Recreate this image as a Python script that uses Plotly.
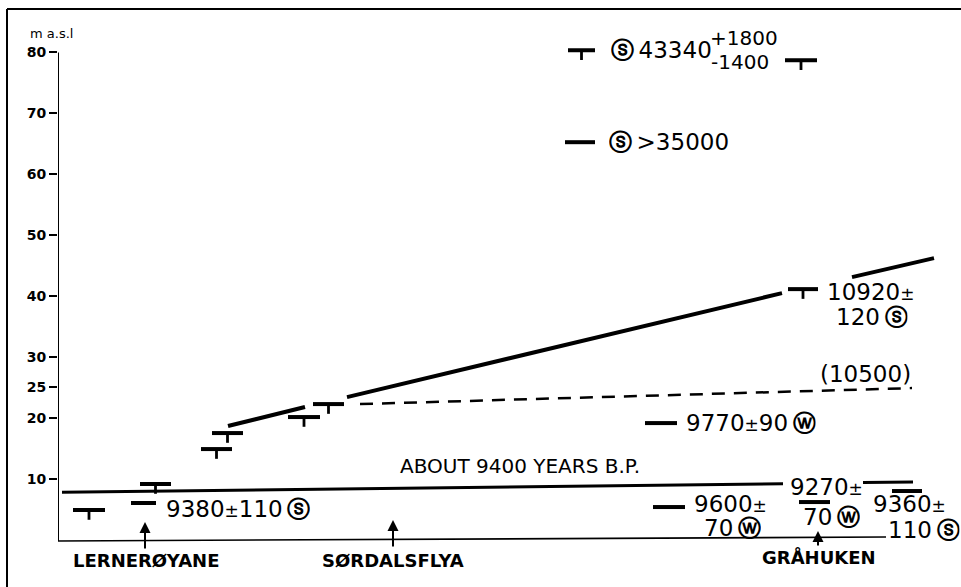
import plotly.graph_objects as go

# ---------------- data ----------------
# dated samples: horizontal bar from x0 to x1 (distance, arbitrary km) at elevation (m a.s.l.)
sample_x0 = [1.5, 8.2, 7.3, 14.3, 15.4, 23.0, 25.5, 73.0, 58.7, 59.5, 74.1, 83.4, 51.0, 72.7, 50.7]
sample_x1 = [4.7, 11.3, 9.8, 17.4, 18.5, 26.2, 28.6, 76.0, 61.9, 62.7, 77.2, 86.4, 53.7, 75.9, 53.7]
sample_elev = [4.85, 9.12, 6.0, 14.86, 17.49, 20.12, 22.25, 41.13, 19.13, 5.34, 6.16, 7.97, 80.36, 78.72, 65.26]
sample_stem = [1, 1, 0, 1, 1, 1, 1, 1, 0, 0, 0, 0, 1, 1, 0]
stem_len = 1.6

# shorelines
upper_x = [[17.0, 24.7], [28.9, 72.4], [79.4, 87.6]]
upper_y = [[18.64, 21.76], [23.4, 40.47], [43.1, 46.22]]
dashed_x = [30.2, 85.4]
dashed_y = [22.25, 24.88]
main_x = [[0.4, 72.5], [80.5, 85.5]]
main_y = [[7.75, 9.17], [9.36, 9.44]]
base_x = [0.0, 82.8]
base_y = [-0.24, 0.42]
axis_top = 80

# y ticks
y_ticks = [10, 20, 25, 30, 40, 50, 60, 70, 80]

# locality arrows
loc_names = ["LERNERØYANE", "SØRDALSFLYA", "GRÅHUKEN"]
loc_x = [8.7, 33.5, 76.0]
loc_tip = [2.88, 3.21, 1.40]
loc_tail = [-1.72, -1.39, -1.22]
loc_label_x = [8.8, 33.5, 76.1]
loc_label_y = [-3.52, -3.52, -2.87]

PM = "<span style='font-size:17px'>±</span>"
S = "\u2009<b>ⓢ</b>"
W = "\u2009<b>ⓦ</b>"
# date labels (left anchored)
date_text = [
    "9380" + PM + "110" + S,
    "<b>ⓢ</b>\u200943340",
    "<b>ⓢ</b>\u2009>35000",
    "10920" + PM,
    "120" + S,
    "(10500)",
    "9770" + PM + "90" + W,
    "9600" + PM,
    "70" + W,
    "9270" + PM,
    "70" + W,
    "9360" + PM,
    "110" + S,
]
date_x = [10.7, 55.2, 55.0, 76.8, 77.7, 76.1, 62.7, 63.5, 64.5, 73.1, 74.4, 81.4, 82.9]
date_y = [5.1, 80.36, 65.26, 40.63, 36.61, 27.26, 19.13, 5.92, 1.98, 8.62, 3.78, 5.83, 1.57]

err_text = ["+1800", "-1400"]
err_x = [65.1, 65.2]
err_y = [82.33, 78.39]

main_label = "ABOUT 9400 YEARS B.P."
main_label_x = 34.0
main_label_y = 12.07

# ---------------- figure ----------------
fig = go.Figure()

bx, by, sx, sy = [], [], [], []
for x0, x1, e, s in zip(sample_x0, sample_x1, sample_elev, sample_stem):
    bx += [x0, x1, None]
    by += [e, e, None]
    if s:
        c = (x0 + x1) / 2
        sx += [c, c, None]
        sy += [e, e - stem_len, None]
fig.add_trace(go.Scatter(x=bx, y=by, mode="lines", line=dict(color="black", width=4), hoverinfo="skip"))
fig.add_trace(go.Scatter(x=sx, y=sy, mode="lines", line=dict(color="black", width=2.8), hoverinfo="skip"))

ux, uy = [], []
for xs, ys in zip(upper_x, upper_y):
    ux += xs + [None]
    uy += ys + [None]
fig.add_trace(go.Scatter(x=ux, y=uy, mode="lines", line=dict(color="black", width=4), hoverinfo="skip"))

fig.add_trace(go.Scatter(x=dashed_x, y=dashed_y, mode="lines",
                         line=dict(color="black", width=2.5, dash="13px,9px"), hoverinfo="skip"))

mx, my = [], []
for xs, ys in zip(main_x, main_y):
    mx += xs + [None]
    my += ys + [None]
fig.add_trace(go.Scatter(x=mx, y=my, mode="lines", line=dict(color="black", width=3), hoverinfo="skip"))

fig.add_trace(go.Scatter(x=base_x, y=base_y, mode="lines", line=dict(color="black", width=1.6), hoverinfo="skip"))
fig.add_trace(go.Scatter(x=[0, 0], y=[base_y[0], axis_top], mode="lines",
                         line=dict(color="black", width=2), hoverinfo="skip"))

annotations = []
for t, x, y in zip(date_text, date_x, date_y):
    annotations.append(dict(x=x, y=y, text=t, showarrow=False, xanchor="left", yanchor="middle",
                            height=24, borderpad=0,
                            font=dict(family="DejaVu Sans", size=23, color="black")))
for t, x, y in zip(err_text, err_x, err_y):
    annotations.append(dict(x=x, y=y, text=t, showarrow=False, xanchor="left", yanchor="middle",
                            height=20, borderpad=0,
                            font=dict(family="DejaVu Sans", size=20, color="black")))
annotations.append(dict(x=main_label_x, y=main_label_y, text=main_label, showarrow=False,
                        xanchor="left", yanchor="middle",
                        font=dict(family="DejaVu Sans", size=20, color="black")))
for n, x, tip, tail, lx, ly in zip(loc_names, loc_x, loc_tip, loc_tail, loc_label_x, loc_label_y):
    annotations.append(dict(x=x, y=tip, ax=x, ay=tail, axref="x", ayref="y", text="",
                            showarrow=True, arrowhead=2, arrowsize=1.1, arrowwidth=2, arrowcolor="black"))
    annotations.append(dict(x=lx, y=ly, text=n, showarrow=False, xanchor="center", yanchor="middle",
                            font=dict(family="DejaVu Sans", size=18, color="black", weight="bold")))
annotations.append(dict(x=(28 - 58) / 903, xref="paper", y=83.15, text="m a.s.l", showarrow=False,
                        xanchor="left", yanchor="middle",
                        font=dict(family="DejaVu Sans", size=13, color="black")))

T, B = 22, 17
PH = 587 - T - B
fig.update_layout(
    width=961, height=587,
    margin=dict(l=58, r=0, t=T, b=B),
    paper_bgcolor="white", plot_bgcolor="white",
    showlegend=False,
    annotations=annotations,
    xaxis=dict(range=[0, 90.3], visible=False, showgrid=False, zeroline=False),
    yaxis=dict(range=[-5, 85], tickvals=y_ticks, ticktext=[str(v) for v in y_ticks],
               ticks="outside", ticklen=8, tickwidth=1.5, tickcolor="black",
               showgrid=False, zeroline=False, showline=False,
               tickfont=dict(family="DejaVu Sans", size=14, color="black", weight="bold")),
    shapes=[
        dict(type="line", xref="paper", yref="paper", x0=(7 - 58) / 903, x1=1.0,
             y0=(587 - B - 9) / PH, y1=(587 - B - 9) / PH, line=dict(color="black", width=2)),
        dict(type="line", xref="paper", yref="paper", x0=(7 - 58) / 903, x1=(7 - 58) / 903,
             y0=(587 - B - 9) / PH, y1=(587 - B - 587) / PH, line=dict(color="black", width=2)),
    ],
)

fig.write_html("out.html", config={"displayModeBar": False},
               post_script="document.body.style.margin='0';document.documentElement.style.overflow='hidden';")
